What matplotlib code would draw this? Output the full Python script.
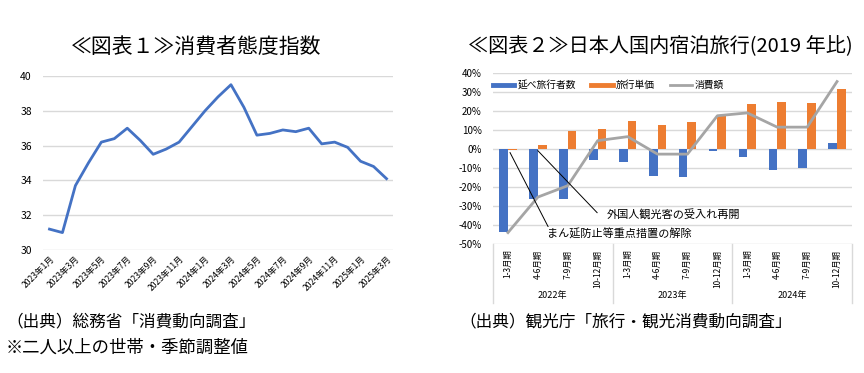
import matplotlib
matplotlib.use("Agg")
import matplotlib.pyplot as plt
import matplotlib.transforms as mtransforms
from matplotlib.lines import Line2D
import numpy as np

plt.rcParams['font.family'] = ['Noto Sans CJK JP', 'DejaVu Sans']

# ---- Chart 1 data: consumer confidence index ----
months = ["2023年1月", "2023年2月", "2023年3月", "2023年4月", "2023年5月", "2023年6月",
          "2023年7月", "2023年8月", "2023年9月", "2023年10月", "2023年11月", "2023年12月",
          "2024年1月", "2024年2月", "2024年3月", "2024年4月", "2024年5月", "2024年6月",
          "2024年7月", "2024年8月", "2024年9月", "2024年10月", "2024年11月", "2024年12月",
          "2025年1月", "2025年2月", "2025年3月"]
confidence = [31.2, 31.0, 33.7, 35.0, 36.2, 36.4, 37.0, 36.3, 35.5, 35.8, 36.2, 37.1,
              38.0, 38.8, 39.5, 38.2, 36.6, 36.7, 36.9, 36.8, 37.0, 36.1, 36.2, 35.9,
              35.1, 34.8, 34.1]
left_yticks = [30, 32, 34, 36, 38, 40]

# ---- Chart 2 data: domestic overnight travel (vs 2019) ----
quarters = ["1-3月期", "4-6月期", "7-9月期", "10-12月期"] * 3
years = ["2022年", "2023年", "2024年"]
travelers = [-43.5, -26.5, -26.5, -6.0, -7.0, -14.0, -14.5, -1.0, -4.0, -11.0, -10.0, 3.0]
unit_price = [-0.4, 2.0, 9.5, 10.5, 14.5, 12.5, 14.0, 17.5, 23.5, 25.0, 24.0, 31.5]
spending = [-44.0, -25.3, -19.3, 4.4, 6.5, -2.7, -2.7, 17.5, 19.0, 11.5, 11.5, 35.5]
series_names = ["延べ旅行者数", "旅行単価", "消費額"]
right_yticks = [-50, -40, -30, -20, -10, 0, 10, 20, 30, 40]

BLUE = "#4472C4"
ORANGE = "#ED7D31"
GRAY = "#A5A5A5"
GRID = "#D9D9D9"

fig = plt.figure(figsize=(8.64, 3.73), dpi=100)

# ---------------- Left chart ----------------
ax1 = fig.add_axes([43/864, 1-250/373, 350/864, 174/373])
x1 = np.arange(len(months))
ax1.plot(x1, confidence, color=BLUE, lw=2.0, solid_joinstyle='round')
ax1.set_xlim(-0.5, len(months)-0.5)
ax1.set_ylim(30, 40)
ax1.set_yticks(left_yticks)
ax1.set_yticklabels([str(v) for v in left_yticks], fontsize=7.5)
ax1.set_xticks(x1[::2])
ax1.set_xticklabels(months[::2], rotation=45, ha='right', rotation_mode='anchor', fontsize=6.2)
ax1.grid(axis='y', color=GRID, lw=1.0)
ax1.set_axisbelow(True)
for s in ax1.spines.values():
    s.set_visible(False)
ax1.tick_params(axis='both', length=0)
ax1.tick_params(axis='y', pad=8)
ax1.tick_params(axis='x', pad=3)

# ---------------- Right chart ----------------
ax2 = fig.add_axes([493/864, 1-244/373, 359/864, 171/373])
x2 = np.arange(len(quarters))
w = 0.29
ax2.bar(x2 - 0.145, travelers, width=w, color=BLUE, zorder=2)
ax2.bar(x2 + 0.145, unit_price, width=w, color=ORANGE, zorder=2)
ax2.plot(x2, spending, color=GRAY, lw=2.0, zorder=3)
ax2.set_xlim(-0.5, len(quarters)-0.5)
ax2.set_ylim(-50, 40)
ax2.set_yticks(right_yticks)
ax2.set_yticklabels([f"{v}%" for v in right_yticks], fontsize=7)
ax2.set_xticks(x2)
ax2.set_xticklabels(quarters, rotation=90, va='top', ha='center', fontsize=6)
ax2.grid(axis='y', color=GRID, lw=1.0)
ax2.set_axisbelow(True)
for s in ax2.spines.values():
    s.set_visible(False)
ax2.tick_params(axis='both', length=0)
ax2.tick_params(axis='y', pad=8)
ax2.tick_params(axis='x', pad=4)

trans = mtransforms.blended_transform_factory(ax2.transData, ax2.transAxes)
for xb in [-0.5, 3.5, 7.5, 11.5]:
    ax2.plot([xb, xb], [0, -0.345], transform=trans, color=GRID, lw=1.0, clip_on=False)
for i, yr in enumerate(years):
    ax2.text(i*4 + 1.5, -0.30, yr, transform=trans, ha='center', va='center', fontsize=6.5)

# annotations
ax2.plot([1.0, 2.98], [-0.9, -33.5], color='black', lw=0.7, zorder=4)
ax2.plot([0.07, 1.34], [-1.9, -40.8], color='black', lw=0.7, zorder=4)
ax2.text(3.3, -34.6, "外国人観光客の受入れ再開", fontsize=8, ha='left', va='center', zorder=5,
         bbox=dict(facecolor='white', edgecolor='none', pad=1.0))
ax2.text(1.32, -44.6, "まん延防止等重点措置の解除", fontsize=8, ha='left', va='center', zorder=5,
         bbox=dict(facecolor='white', edgecolor='none', pad=1.0))

handles = [Line2D([0], [0], color=BLUE, lw=3.5),
           Line2D([0], [0], color=ORANGE, lw=3.5),
           Line2D([0], [0], color=GRAY, lw=2.0)]
ax2.legend(handles, series_names, loc='center left', bbox_to_anchor=(0.0, 0.93), ncol=3,
           frameon=False, fontsize=7, handlelength=2.2, handletextpad=0.3,
           columnspacing=1.6, borderaxespad=0, borderpad=0)

# ---------------- Titles and notes ----------------
fig.text(196/864, 1-47/373, "≪図表１≫消費者態度指数", ha='center', va='center', fontsize=15)
fig.text(660/864, 1-47/373, "≪図表２≫日本人国内宿泊旅行(2019 年比)", ha='center', va='center', fontsize=14.5)
fig.text(6/864, 1-322/373, "（出典）総務省「消費動向調査」", ha='left', va='center', fontsize=12)
fig.text(6/864, 1-348/373, "※二人以上の世帯・季節調整値", ha='left', va='center', fontsize=12.5)
fig.text(459/864, 1-322/373, "（出典）観光庁「旅行・観光消費動向調査」", ha='left', va='center', fontsize=12)

fig.savefig("out.png", dpi=100)
